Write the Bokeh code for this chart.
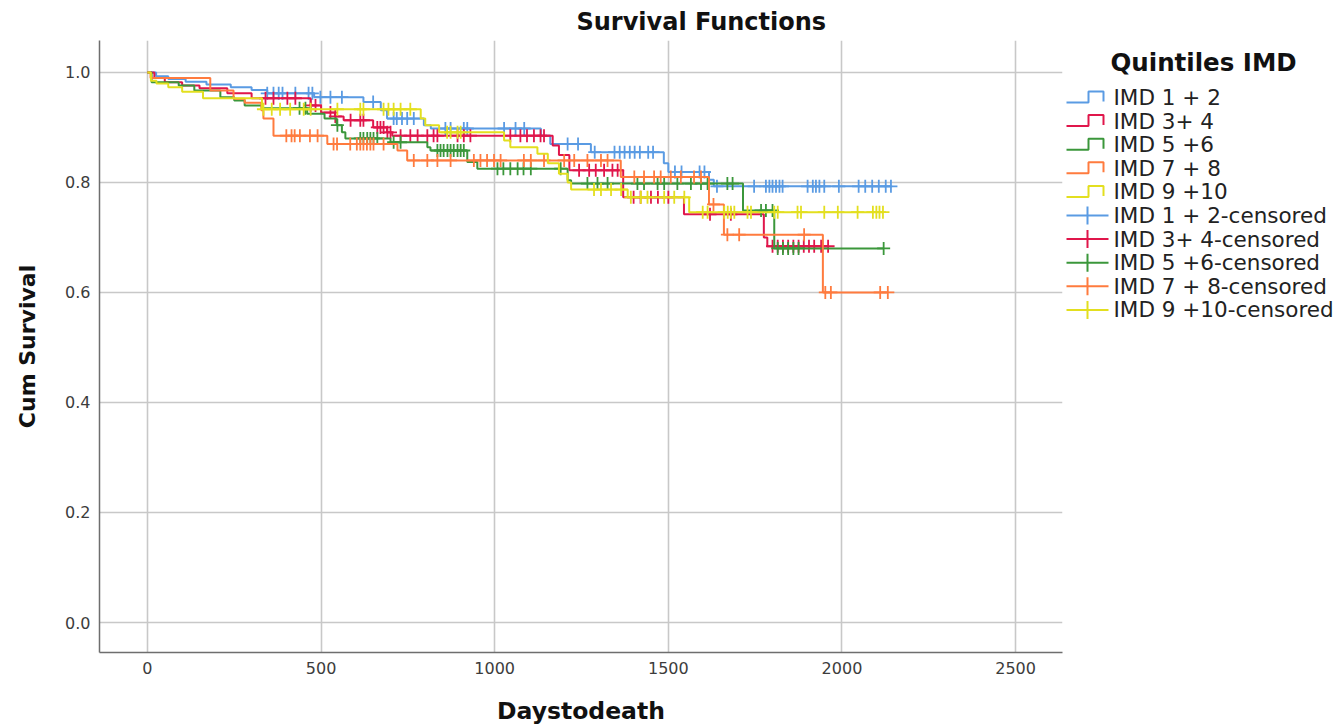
import numpy as np
from bokeh.plotting import figure
from bokeh.layouts import row
from bokeh.models import Range1d, FixedTicker, NumeralTickFormatter
from bokeh.core.properties import value
from bokeh.embed import file_html
from bokeh.resources import INLINE

# ---- Kaplan-Meier estimates per IMD quintile group ----
groups = ["IMD 1 + 2", "IMD 3+ 4", "IMD 5 +6", "IMD 7 + 8", "IMD 9 +10"]
colors = ["#5A9BE3", "#E0164B", "#3B973B", "#FF7B3E", "#E3DF1F"]

# event times (days) and cumulative survival after each step
imd12_t = [0, 25, 60, 110, 170, 240, 300, 345, 480, 622, 672, 690, 796, 816, 1133, 1160, 1277, 1487, 1500, 1617, 1631]
imd12_s = [1.0, 0.993, 0.988, 0.983, 0.978, 0.973, 0.968, 0.962, 0.955, 0.946, 0.931, 0.916, 0.904, 0.898, 0.885, 0.870, 0.855, 0.835, 0.819, 0.805, 0.793]
imd12_c = [345, 363, 378, 389, 426, 464, 475, 498, 527, 560, 650, 709, 718, 733, 748, 767, 858, 873, 911, 921, 1027,
           1060, 1085, 1210, 1240, 1288, 1345, 1360, 1374, 1389, 1403, 1418, 1442, 1456, 1519, 1538, 1590, 1604, 1640,
           1747, 1781, 1791, 1800, 1810, 1820, 1829, 1901, 1916, 1925, 1935, 1949, 1991, 2048, 2067, 2087, 2106, 2126, 2141]

imd34_t = [0, 20, 50, 100, 150, 230, 300, 470, 500, 540, 565, 650, 690, 705, 1167, 1185, 1215, 1370, 1545, 1775, 1785]
imd34_s = [1.0, 0.990, 0.982, 0.976, 0.971, 0.962, 0.953, 0.940, 0.927, 0.920, 0.913, 0.900, 0.891, 0.885, 0.867, 0.850, 0.822, 0.773, 0.742, 0.700, 0.684]
imd34_c = [340, 363, 403, 426, 470, 484, 527, 541, 585, 613, 622, 662, 671, 680, 691, 700, 729, 757, 778, 806, 824,
           835, 893, 911, 930, 1045, 1074, 1093, 1113, 1132, 1142, 1243, 1272, 1291, 1315, 1339, 1354, 1400, 1420,
           1450, 1470, 1500, 1620, 1680, 1800, 1815, 1830, 1845, 1860, 1875, 1890, 1905, 1920, 1940, 1960]

imd56_t = [0, 12, 90, 135, 210, 250, 280, 330, 460, 510, 545, 560, 570, 700, 806, 815, 921, 950, 1210, 1220, 1715, 1805]
imd56_s = [1.0, 0.982, 0.976, 0.967, 0.955, 0.949, 0.940, 0.935, 0.925, 0.916, 0.904, 0.891, 0.880, 0.873, 0.864, 0.858, 0.837, 0.825, 0.804, 0.798, 0.749, 0.680]
imd56_c = [438, 455, 547, 613, 622, 633, 642, 651, 662, 709, 729, 835, 844, 853, 864, 873, 882, 893, 902, 911,
           1008, 1025, 1045, 1066, 1083, 1104, 1190, 1267, 1296, 1325, 1411, 1430, 1469, 1488, 1526, 1565, 1594,
           1613, 1670, 1685, 1767, 1781, 1800, 1815, 1830, 1845, 1860, 1875, 2120]

imd78_t = [0, 9, 181, 248, 280, 328, 334, 363, 518, 720, 748, 1363, 1617, 1660, 1945]
imd78_s = [1.0, 0.990, 0.967, 0.952, 0.945, 0.931, 0.916, 0.885, 0.870, 0.858, 0.840, 0.810, 0.760, 0.705, 0.600]
imd78_c = [400, 415, 424, 439, 468, 490, 536, 546, 584, 603, 613, 622, 632, 642, 651, 680, 767, 806, 835, 873, 940,
           959, 978, 998, 1017, 1084, 1104, 1142, 1200, 1229, 1267, 1306, 1325, 1402, 1430, 1459, 1478, 1507, 1536,
           1574, 1594, 1630, 1670, 1704, 1891, 1952, 1968, 2110, 2132]

imd910_t = [0, 10, 26, 60, 100, 160, 330, 787, 800, 840, 1027, 1045, 1123, 1153, 1185, 1210, 1220, 1383, 1560]
imd910_s = [1.0, 0.985, 0.980, 0.973, 0.965, 0.953, 0.933, 0.916, 0.904, 0.891, 0.876, 0.864, 0.852, 0.835, 0.816, 0.800, 0.787, 0.773, 0.746]
imd910_c = [334, 358, 382, 411, 450, 470, 547, 613, 622, 680, 694, 709, 729, 757, 863, 873, 893, 902, 1286, 1306,
            1335, 1364, 1392, 1421, 1440, 1488, 1517, 1546, 1599, 1613, 1661, 1671, 1680, 1690, 1728, 1738, 1805,
            1815, 1872, 1882, 1949, 1988, 2045, 2089, 2099, 2108, 2118]

times = [imd12_t, imd34_t, imd56_t, imd78_t, imd910_t]
survs = [imd12_s, imd34_s, imd56_s, imd78_s, imd910_s]
censored = [imd12_c, imd34_c, imd56_c, imd78_c, imd910_c]

x_ticks = [0, 500, 1000, 1500, 2000, 2500]
y_ticks = [0.0, 0.2, 0.4, 0.6, 0.8, 1.0]

FONT = "DejaVu Sans"
TOP, BOTTOM = 40, 76
LW = 2.0

# ---- main survival plot ----
p = figure(width=1065, height=728, output_backend="svg", toolbar_location=None,
           x_range=Range1d(-138, 2635), y_range=Range1d(-0.0545, 1.058),
           min_border_left=99, min_border_right=3, min_border_top=TOP, min_border_bottom=BOTTOM)
p.outline_line_color = None
p.background_fill_color = "white"

p.title.text = "Survival Functions"
p.title.align = "left"
p.title.offset = 477
p.title.text_font = FONT
p.title.text_font_style = "bold"
p.title.text_font_size = "24px"
p.title.text_color = "#111111"
p.title.standoff = 9

p.xaxis.ticker = FixedTicker(ticks=x_ticks)
p.yaxis.ticker = FixedTicker(ticks=y_ticks)
p.yaxis.formatter = NumeralTickFormatter(format="0.0")
p.xaxis.axis_label = "Daystodeath"
p.yaxis.axis_label = "Cum Survival"
for ax in (p.xaxis, p.yaxis):
    ax.axis_label_text_font = FONT
    ax.axis_label_text_font_style = "bold"
    ax.axis_label_text_color = "#111111"
    ax.major_label_text_font = FONT
    ax.major_label_text_font_size = "16px"
    ax.major_label_text_color = "#3c3c3c"
    ax.major_tick_out = 0
    ax.major_tick_in = 0
    ax.minor_tick_out = 0
    ax.minor_tick_in = 0
    ax.axis_line_color = "#6e6e6e"
    ax.axis_line_width = 1.5
p.xaxis.axis_label_text_font_size = "23.5px"
p.yaxis.axis_label_text_font_size = "22px"
p.xaxis.major_label_standoff = 9
p.xaxis.axis_label_standoff = 20
p.yaxis.major_label_standoff = 9
p.yaxis.axis_label_standoff = 22

for g in (p.xgrid, p.ygrid):
    g.grid_line_color = "#c8c8c8"
    g.grid_line_width = 1.6

for t, s, c, col in zip(times, survs, censored, colors):
    t = np.asarray(t, dtype=float)
    s = np.asarray(s, dtype=float)
    end = max(max(c), t[-1])
    xs = np.append(t, end)
    ys = np.append(s, s[-1])
    p.step(xs, ys, mode="after", line_color=col, line_width=LW)
    cx = np.asarray(c, dtype=float)
    cy = s[np.searchsorted(t, cx, side="right") - 1]
    p.scatter(cx, cy, marker="cross", size=13, line_color=col, line_width=1.8)

# ---- legend panel (y coordinates measured in pixels from the top of the page) ----
lg = figure(width=278, height=728, output_backend="svg", toolbar_location=None,
            x_range=Range1d(0, 278), y_range=Range1d(728 - BOTTOM, TOP),
            x_axis_type=None, y_axis_type=None,
            min_border_left=0, min_border_right=0, min_border_top=TOP, min_border_bottom=BOTTOM)
lg.outline_line_color = None
lg.xgrid.visible = False
lg.ygrid.visible = False

lg.text(x=[45], y=[62], text=["Quintiles IMD"], text_font=value(FONT), text_font_style="bold",
        text_font_size="24.5px", text_baseline="middle", text_align="left", text_color="#111111")

labels = groups + [g + "-censored" for g in groups]
row_gap = 23.6
for i, lab in enumerate(labels):
    cy = 97 + i * row_gap
    col = colors[i % 5]
    if i < 5:
        lg.line([1, 23, 23, 38, 38], [cy + 5, cy + 5, cy - 6, cy - 6, cy + 4], line_color=col, line_width=LW)
    else:
        lg.line([1, 43], [cy, cy], line_color=col, line_width=LW)
        lg.line([22, 22], [cy - 9, cy + 9], line_color=col, line_width=LW)
    lg.text(x=[48], y=[cy], text=[lab], text_font=value(FONT), text_font_size="21.5px",
            text_baseline="middle", text_align="left", text_color="#222222")

layout = row(p, lg, spacing=0)
open("out.html", "w").write(file_html(layout, INLINE))
